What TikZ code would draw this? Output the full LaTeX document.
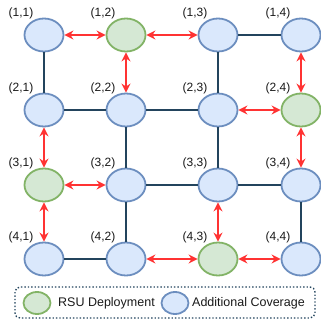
\documentclass[tikz,border=0pt]{standalone}
\usepackage{fontspec}
\setmainfont{Liberation Sans}
\usetikzlibrary{arrows.meta,shapes.geometric}
\definecolor{cellblue}{HTML}{DAE8FC}
\definecolor{cellblueline}{HTML}{6C8EBF}
\definecolor{rsugreen}{HTML}{D5E8D4}
\definecolor{rsugreenline}{HTML}{82B366}
\definecolor{linkred}{HTML}{FF3333}
\definecolor{roadnavy}{HTML}{23445D}
\tikzset{
  cell/.style={ellipse, draw=cellblueline, fill=cellblue, line width=1.8pt,
    minimum width=39pt, minimum height=33pt, inner sep=0pt},
  rsu/.style={cell, draw=rsugreenline, fill=rsugreen},
  road/.style={roadnavy, line width=2pt},
  relay/.style={linkred, line width=2pt, {Stealth[length=9pt,width=9pt]}-{Stealth[length=9pt,width=9pt]}},
  tag/.style={font=\fontsize{12}{13}\selectfont, text=black!90}
}
\begin{document}
\begin{tikzpicture}[x=1pt,y=-1pt]
  \useasboundingbox (0,0) rectangle (321,327);
  % grid of cells
  \foreach \r/\y/\g in {1/35/2,2/110/4,3/185/1,4/259/3}{
    \foreach \c/\x in {1/44,2/126,3/218,4/301}{
      \ifnum\c=\g
        \node[rsu] (n\r\c) at (\x,\y) {};
      \else
        \node[cell] (n\r\c) at (\x,\y) {};
      \fi
      \node[tag] (t\r\c) at (\x-23,\y-22) {(\r,\c)};
    }
  }

  % roads
  \draw[road] (n11) -- (n21);
  \draw[road] (n13) -- (n14);
  \draw[road] (n13) -- (n23);
  \draw[road] (n21) -- (n22);
  \draw[road] (n22) -- (n23);
  \draw[road] (n22) -- (n32);
  \draw[road] (n23) -- (n33);
  \draw[road] (n32) -- (n33);
  \draw[road] (n32) -- (n42);
  \draw[road] (n33) -- (n34);
  \draw[road] (n34) -- (n44);
  \draw[road] (n41) -- (n42);

  % RSU links
  \draw[relay] (n11) -- (n12);
  \draw[relay] (n12) -- (n13);
  \draw[relay] (n12) -- (n22);
  \draw[relay] (n14) -- (n24);
  \draw[relay] (n23) -- (n24);
  \draw[relay] (n24) -- (n34);
  \draw[relay] (n21) -- (n31);
  \draw[relay] (n31) -- (n32);
  \draw[relay] (n31) -- (n41);
  \draw[relay] (n33) -- (n43);
  \draw[relay] (n42) -- (n43);
  \draw[relay] (n43) -- (n44);

  % legend
  \draw[roadnavy, line width=1.4pt, dotted, rounded corners=5pt] (15,287) rectangle (315,318);
  \node[rsu, minimum width=27pt, minimum height=22pt] (lg1) at (37,303) {};
  \node[tag, anchor=west, inner sep=0pt, font=\fontsize{12.5}{14}\selectfont] (lt1) at (58,303) {RSU Deployment};
  \node[cell, minimum width=27pt, minimum height=22pt] (lg2) at (175,303) {};
  \node[tag, anchor=west, inner sep=0pt, font=\fontsize{12.5}{14}\selectfont] (lt2) at (192,303) {Additional Coverage};
\end{tikzpicture}
\end{document}
